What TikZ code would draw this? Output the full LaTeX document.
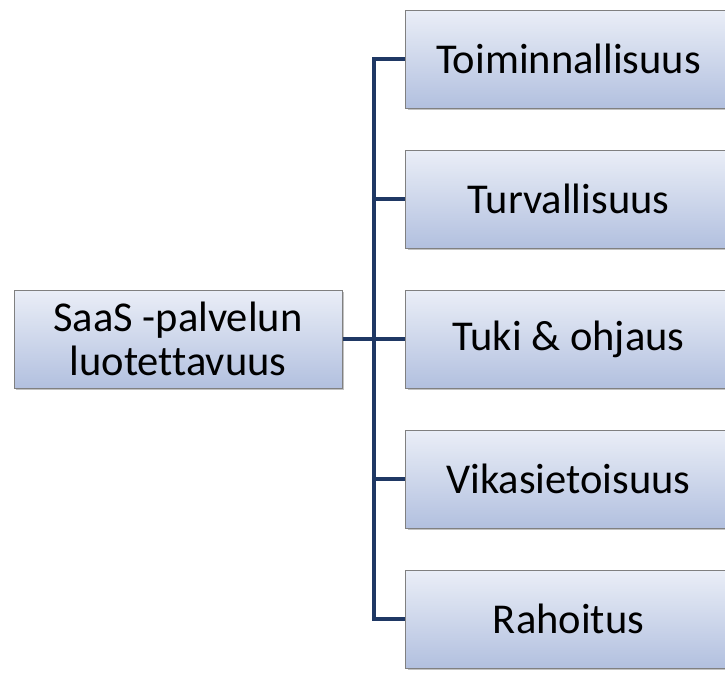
\documentclass[tikz,border=0pt]{standalone}
\usepackage{fontspec}
\setmainfont{Carlito}[Ligatures=NoCommon]
\usetikzlibrary{shadows}
\definecolor{topc}{RGB}{234,238,247}
\definecolor{botc}{RGB}{178,192,223}
\definecolor{edge}{RGB}{128,128,128}
\definecolor{navy}{RGB}{31,56,100}
\tikzset{
  boxstyle/.style={draw=edge, line width=1pt, top color=topc, bottom color=botc,
    minimum height=98pt, inner sep=0pt, font=\fontsize{42.5}{44}\selectfont, align=center,
    drop shadow={shadow xshift=2pt, shadow yshift=-2pt, fill=black!40, opacity=0.6}},
  conn/.style={navy, line width=4.5pt}
}
\begin{document}
\begin{tikzpicture}[x=1pt,y=-1pt]
\useasboundingbox (0,0) rectangle (725,673);
\clip (0,0) rectangle (725,673);
\node[boxstyle, minimum width=328pt] (root) at (178,339) {SaaS -palvelun\\luotettavuus};
\node[boxstyle, minimum width=340pt, anchor=west] (a) at (405,59) {\hspace*{-14pt}Toiminnallisuus};
\node[boxstyle, minimum width=340pt, anchor=west] (b) at (405,199) {\hspace*{-14pt}Turvallisuus};
\node[boxstyle, minimum width=340pt, anchor=west] (c) at (405,339) {\hspace*{-14pt}Tuki \& ohjaus};
\node[boxstyle, minimum width=340pt, anchor=west] (d) at (405,479) {\hspace*{-14pt}Vikasietoisuus};
\node[boxstyle, minimum width=340pt, anchor=west] (e) at (405,619) {\hspace*{-14pt}Rahoitus};
\coordinate (top) at (374,59);
\coordinate (bot) at (374,619);
\draw[conn, line join=miter] (a.west) -- (top) -- (bot) -- (e.west);
\draw[conn] (root.east) -- (c.west);
\draw[conn] (374,199) -- (b.west);
\draw[conn] (374,479) -- (d.west);
\end{tikzpicture}
\end{document}
